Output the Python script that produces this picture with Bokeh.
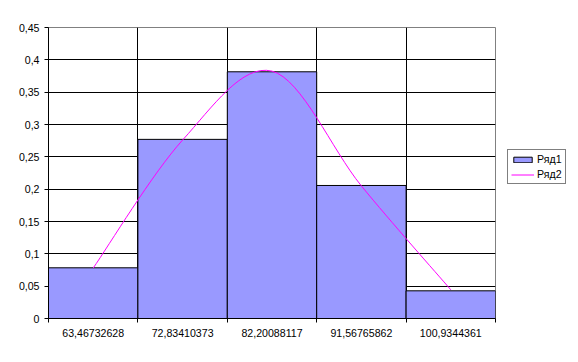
from bokeh.plotting import figure
from bokeh.layouts import row
from bokeh.models import FixedTicker, Legend, LegendItem, Range1d
from bokeh.embed import file_html
from bokeh.resources import INLINE

categories = ["63,46732628", "72,83410373", "82,20088117", "91,56765862", "100,9344361"]
series1 = [0.0784, 0.277, 0.3815, 0.2057, 0.0428]   # Ряд1 (bars)
series2 = [0.078, 0.276, 0.3825, 0.205, 0.0444]     # Ряд2 (smoothed line)
y_ticks = [0, 0.05, 0.1, 0.15, 0.2, 0.25, 0.3, 0.35, 0.4, 0.45]
y_labels = ["0", "0,05", "0,1", "0,15", "0,2", "0,25", "0,3", "0,35", "0,4", "0,45"]

FONT = "Liberation Sans"
FS = "10.6px"

p = figure(width=496, height=362, output_backend="svg", toolbar_location=None,
           x_range=Range1d(0, len(categories)), y_range=Range1d(0, 0.45),
           min_border_left=48, min_border_top=27, min_border_right=1, min_border_bottom=44)
p.background_fill_color = "white"
p.border_fill_color = "white"
p.outline_line_color = "#808080"
p.outline_line_width = 1

xs = [i + 0.5 for i in range(len(categories))]

# bars
bars = p.vbar(x=xs, top=series1, width=1, bottom=0, fill_color="#9999FF",
              line_color="black", line_width=1)

# smoothed line (Catmull-Rom style Bezier through the series points)
n = len(xs)
x0, y0, x1, y1, cx0, cy0, cx1, cy1 = [], [], [], [], [], [], [], []
for i in range(n - 1):
    ip = max(i - 1, 0)
    inx = min(i + 2, n - 1)
    x0.append(xs[i]); y0.append(series2[i])
    x1.append(xs[i + 1]); y1.append(series2[i + 1])
    cx0.append(xs[i] + (xs[i + 1] - xs[ip]) / 6)
    cy0.append(series2[i] + (series2[i + 1] - series2[ip]) / 6)
    cx1.append(xs[i + 1] - (xs[inx] - xs[i]) / 6)
    cy1.append(series2[i + 1] - (series2[inx] - series2[i]) / 6)
curve = p.bezier(x0=x0, y0=y0, x1=x1, y1=y1, cx0=cx0, cy0=cy0, cx1=cx1, cy1=cy1,
                 line_color="#FF00FF", line_width=1)

# grids
p.xgrid.ticker = FixedTicker(ticks=[1, 2, 3, 4])
p.xgrid.grid_line_color = "black"
p.ygrid.ticker = FixedTicker(ticks=y_ticks[1:-1])
p.ygrid.grid_line_color = "black"

# x axis
xa = p.xaxis[0]
xa.ticker = FixedTicker(ticks=xs, minor_ticks=[0, 1, 2, 3, 4, 5])
xa.major_label_overrides = {x: c for x, c in zip(xs, categories)}
xa.major_tick_line_color = None
xa.major_tick_out = 4
xa.major_tick_in = 0
xa.minor_tick_out = 4
xa.minor_tick_in = 0
xa.minor_tick_line_color = "black"
xa.axis_line_color = "black"
xa.major_label_text_font = FONT
xa.major_label_text_font_size = FS
xa.major_label_text_color = "black"
xa.major_label_standoff = 6

# y axis
ya = p.yaxis[0]
ya.ticker = FixedTicker(ticks=y_ticks)
ya.major_label_overrides = {t: l for t, l in zip(y_ticks, y_labels)}
ya.minor_tick_line_color = None
ya.major_tick_out = 4
ya.major_tick_in = 0
ya.major_tick_line_color = "black"
ya.axis_line_color = "black"
ya.major_label_text_font = FONT
ya.major_label_text_font_size = FS
ya.major_label_text_color = "black"
ya.major_label_standoff = 5

# legend lives in a small companion figure to the right of the plot area
p2 = figure(width=82, height=362, output_backend="svg", toolbar_location=None,
            x_range=Range1d(0, 1), y_range=Range1d(0, 1),
            min_border=0, outline_line_color=None)
p2.axis.visible = False
p2.grid.visible = False
p2.background_fill_color = "white"
p2.border_fill_color = "white"
# off-canvas stand-ins so the legend swatches get drawn
lbars = p2.vbar(x=[5], top=[5], bottom=[4], width=1, fill_color="#9999FF",
                line_color="black", line_width=1)
lline = p2.line(x=[5, 6], y=[5, 5], line_color="#FF00FF", line_width=1)

legend = Legend(items=[LegendItem(label="Ряд1", renderers=[lbars]),
                       LegendItem(label="Ряд2", renderers=[lline])],
                location=(11, 134))
legend.border_line_color = "black"
legend.border_line_width = 1
legend.background_fill_color = "white"
legend.label_text_font = FONT
legend.label_text_font_size = FS
legend.label_text_color = "black"
legend.glyph_width = 23
legend.glyph_height = 7
legend.label_height = 12
legend.label_standoff = 3
legend.padding = 3
legend.spacing = 3
legend.margin = 0
p2.add_layout(legend, "center")

layout = row(p, p2, spacing=0)
open("out.html", "w").write(file_html(layout, INLINE))
